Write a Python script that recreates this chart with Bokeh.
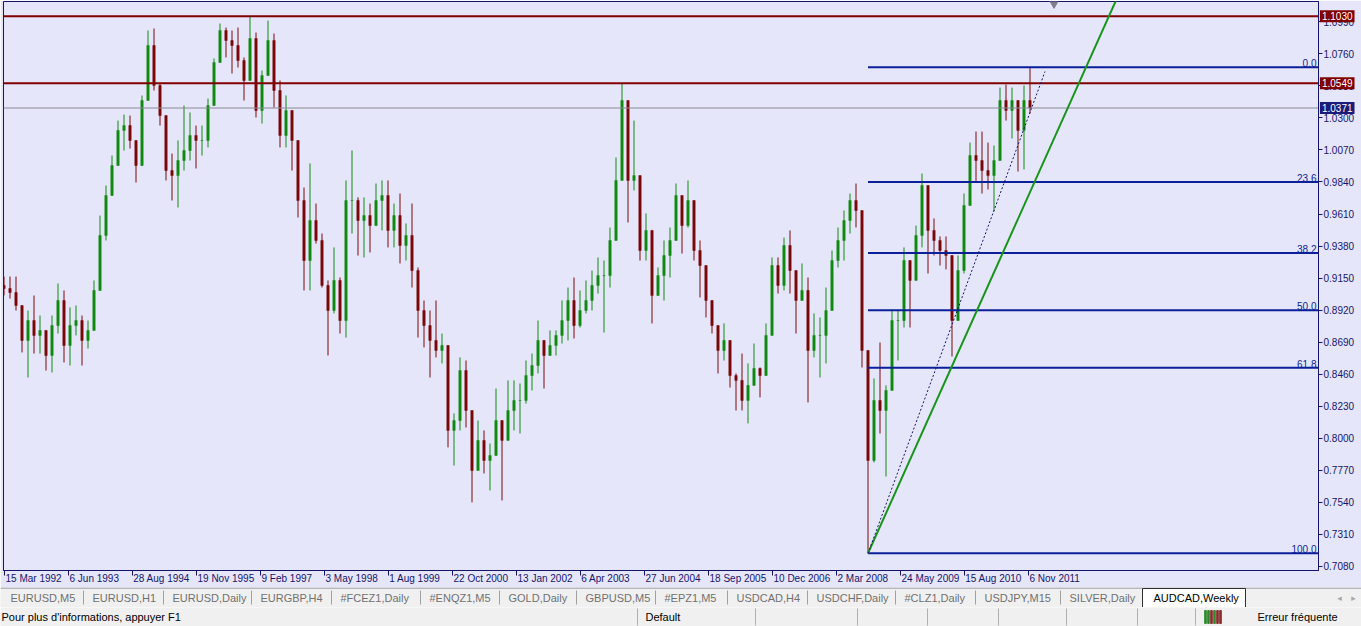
import numpy as np
from bokeh.plotting import figure
from bokeh.models import (FixedTicker, Range1d, NumeralTickFormatter, Label,
                          ColumnDataSource, LinearAxis)
from bokeh.layouts import column, row
from bokeh.embed import file_html
from bokeh.resources import INLINE
from bokeh.core.properties import value

# ---------------- data (AUDCAD weekly, one bar per 6 weeks) ----------------
bar_step_weeks = 6
first_open = 0.9097
close = [
    0.9075, 0.9046, 0.8953, 0.8702, 0.8845, 0.8738, 0.8774, 0.8594, 0.8809, 0.8989,
    0.8666, 0.8809, 0.8845, 0.8702, 0.8774, 0.9061, 0.9456, 0.9743, 0.9958, 1.0210,
    1.0245, 1.0138, 0.9958, 1.0425, 1.0820, 1.0533, 1.0317, 0.9922, 0.9886, 0.9994,
    1.0066, 1.0174, 1.0138, 1.0138, 1.0389, 1.0698, 1.0928, 1.0856, 1.0820, 1.0712,
    1.0569, 1.0870, 1.0353, 1.0604, 1.0856, 1.0497, 1.0174, 1.0353, 1.0138, 0.9707,
    0.9276, 0.9563, 0.9420, 0.9097, 0.8917, 0.9133, 0.8845, 0.9707, 0.9707,
    0.9563, 0.9599, 0.9527, 0.9707, 0.9743, 0.9492, 0.9599, 0.9384, 0.9456, 0.9204,
    0.8917, 0.8809, 0.8702, 0.8630, 0.8666, 0.8056, 0.8127, 0.8486, 0.8199, 0.7768,
    0.7984, 0.7840, 0.7876, 0.8127, 0.7984, 0.8199, 0.8271, 0.8271, 0.8450,
    0.8522, 0.8702, 0.8594, 0.8666, 0.8738, 0.8845, 0.8989, 0.8809, 0.8917, 0.8989,
    0.9097, 0.9168, 0.9168, 0.9420, 0.9851, 1.0425, 0.9851, 0.9886, 0.9348, 0.9492,
    0.9025, 0.9168, 0.9312, 0.9420, 0.9743, 0.9527, 0.9707, 0.9348, 0.9240,
    0.8989, 0.8809, 0.8630, 0.8702, 0.8450, 0.8415, 0.8271, 0.8379, 0.8501, 0.8450,
    0.8738, 0.9240, 0.9097, 0.9384, 0.9204, 0.8989, 0.9061, 0.8630, 0.8738, 0.8738,
    0.8917, 0.9276, 0.9420, 0.9563, 0.9707, 0.9635, 0.8630,
    0.7840, 0.8271, 0.8199, 0.8343, 0.8845, 0.8845, 0.9276, 0.9133, 0.9456, 0.9815,
    0.9492, 0.9420, 0.9348, 0.9312, 0.8845, 0.9204, 0.9671, 1.0030, 0.9994, 0.9922,
    0.9886, 0.9994, 1.0425, 1.0353, 1.0425, 1.0210, 1.0425, 1.0371,
]
high = [
    0.9161, 0.9161, 0.9161, 0.8932, 0.8917, 0.9025, 0.8881, 0.8774, 0.8881, 0.9111,
    0.9061, 0.8939, 0.8953, 0.8881, 0.8845, 0.9133, 0.9599, 0.9815, 1.0030, 1.0281,
    1.0324, 1.0317, 1.0066, 1.0461, 1.0928, 1.0942, 1.0547, 1.0260, 1.0044, 1.0138,
    1.0389, 1.0339, 1.0245, 1.0245, 1.0439, 1.0727, 1.0978, 1.0949, 1.0928, 1.0949,
    1.0734, 1.1028, 1.0913, 1.0640, 1.0999, 1.0906, 1.0569, 1.0461, 1.0231, 0.9958,
    0.9800, 0.9973, 0.9685, 0.9470, 0.9133, 0.9370, 0.9154, 0.9851, 1.0066,
    0.9729, 0.9729, 0.9685, 0.9829, 0.9851, 0.9851, 0.9685, 0.9757, 0.9542, 0.9685,
    0.9226, 0.8989, 0.8917, 0.8989, 0.8752, 0.8580, 0.8178, 0.8580, 0.8558, 0.8199,
    0.8127, 0.8056, 0.7962, 0.8357, 0.8077, 0.8415, 0.8415, 0.8393, 0.8558,
    0.8608, 0.8845, 0.8652, 0.8774, 0.8774, 0.8989, 0.9082, 0.9154, 0.9061, 0.9133,
    0.9204, 0.9298, 0.9276, 0.9513, 1.0016, 1.0547, 1.0403, 1.0281, 0.9757, 0.9614,
    0.9398, 0.9226, 0.9420, 0.9513, 0.9829, 0.9599, 0.9851, 0.9657, 0.9420,
    0.9204, 0.8939, 0.8774, 0.8824, 0.8580, 0.8465, 0.8608, 0.8537, 0.8680, 0.8508,
    0.8824, 0.9298, 0.9298, 0.9441, 0.9492, 0.9082, 0.9255, 0.9154, 0.8896, 0.8867,
    0.9082, 0.9348, 0.9513, 0.9635, 0.9757, 0.9829, 0.9542,
    0.8558, 0.8429, 0.8687, 0.8379, 0.8924, 0.8924, 0.9370, 0.9262, 0.9527, 0.9901,
    0.9815, 0.9578, 0.9449, 0.9449, 0.9161, 0.9312, 0.9757, 1.0123, 1.0202, 1.0202,
    1.0123, 1.0102, 1.0518, 1.0540, 1.0518, 1.0389, 1.0533, 1.0663,
]
low = [
    0.9025, 0.9003, 0.8917, 0.8616, 0.8436, 0.8608, 0.8608, 0.8486, 0.8472, 0.8752,
    0.8544, 0.8522, 0.8738, 0.8522, 0.8644, 0.8774, 0.9061, 0.9420, 0.9779, 0.9958,
    1.0066, 1.0080, 0.9836, 1.0174, 1.0518, 1.0497, 1.0245, 0.9851, 0.9707, 0.9657,
    0.9922, 0.9994, 0.9937, 1.0030, 1.0088, 1.0518, 1.0734, 1.0734, 1.0619, 1.0662,
    1.0425, 1.0712, 1.0303, 1.0260, 1.0762, 1.0375, 1.0088, 1.0088, 0.9922, 0.9585,
    0.9061, 0.9061, 0.9398, 0.9082, 0.8594, 0.8896, 0.8752, 0.8723, 0.9470,
    0.9312, 0.9298, 0.9334, 0.9527, 0.9492, 0.9370, 0.9370, 0.9255, 0.9276, 0.9082,
    0.8723, 0.8652, 0.8436, 0.8580, 0.8537, 0.7934, 0.7804, 0.8056, 0.8077, 0.7539,
    0.7768, 0.7747, 0.7625, 0.7984, 0.7553, 0.8034, 0.8056, 0.8034, 0.8249,
    0.8343, 0.8465, 0.8357, 0.8594, 0.8594, 0.8680, 0.8702, 0.8716, 0.8795, 0.8896,
    0.8917, 0.9039, 0.8759, 0.9082, 0.9513, 0.9851, 0.9549, 0.9779, 0.9276, 0.9276,
    0.8824, 0.9039, 0.8989, 0.9154, 0.9492, 0.9326, 0.9513, 0.9276, 0.9011,
    0.8867, 0.8752, 0.8465, 0.8558, 0.8364, 0.8199, 0.8199, 0.8106, 0.8436, 0.8293,
    0.8486, 0.8795, 0.9039, 0.9061, 0.9039, 0.8752, 0.8989, 0.8257, 0.8580, 0.8436,
    0.8537, 0.8939, 0.9226, 0.9276, 0.9470, 0.9513, 0.8508,
    0.7173, 0.7826, 0.8034, 0.7725, 0.8450, 0.8558, 0.8795, 0.8795, 0.9161, 0.9370,
    0.9183, 0.9312, 0.9240, 0.9212, 0.8587, 0.8845, 0.9183, 0.9678, 0.9836, 0.9757,
    0.9786, 0.9628, 1.0202, 1.0281, 1.0152, 0.9915, 0.9930, 1.0332,
]

date_labels = ["15 Mar 1992", "6 Jun 1993", "28 Aug 1994", "19 Nov 1995", "9 Feb 1997",
               "3 May 1998", "1 Aug 1999", "22 Oct 2000", "13 Jan 2002", "6 Apr 2003",
               "27 Jun 2004", "18 Sep 2005", "10 Dec 2006", "2 Mar 2008", "24 May 2009",
               "15 Aug 2010", "6 Nov 2011"]
label_step_weeks = 64
price_ticks = [0.7080, 0.7310, 0.7540, 0.7770, 0.8000, 0.8230, 0.8460, 0.8690, 0.8920,
               0.9150, 0.9380, 0.9610, 0.9840, 1.0070, 1.0300, 1.0530, 1.0760, 1.0990]
resistance_levels = [1.1030, 1.0549]
bid_price = 1.0371
fib_high = 1.0663
fib_low = 0.7173
fib_low_week = 864
fib_levels = [0.0, 23.6, 38.2, 50.0, 61.8, 100.0]
trend_weeks = [864, 1130]
trend_prices = [0.7173, 1.1432]
dash_weeks = [864, 1041]
dash_prices = [0.7173, 1.0633]
chart_shift_week = 1050

tab_names = ["EURUSD,M5", "EURUSD,H1", "EURUSD,Daily", "EURGBP,H4", "#FCEZ1,Daily",
             "#ENQZ1,M5", "GOLD,Daily", "GBPUSD,M5", "#EPZ1,M5", "USDCAD,H4",
             "USDCHF,Daily", "#CLZ1,Daily", "USDJPY,M15", "SILVER,Daily", "AUDCAD,Weekly"]
tab_x = [10, 92, 172, 260, 340, 429, 508, 585, 664, 736, 816, 904, 984, 1069, 1153]
status_texts = ["Pour plus d'informations, appuyer F1", "Default", "Erreur fréquente"]
status_x = [1, 645, 1257]
status_sep_x = [637, 755, 857, 927, 998, 1066, 1137, 1195]

# ---------------- styling / geometry ----------------
BG = "#e6e6fa"
NAVY = "#15156b"
UP = "#108a10"
DOWN = "#7a0808"
FIB = "#0a1f9a"
FONT = "Liberation Sans"
X0, X1 = -0.5, 1314.5
Y0, Y1 = 0.7050, 1.1136
FIG_W = 1361
LEFT_B = 3
RIGHT_B = 43
FRAME_W = FIG_W - LEFT_B - RIGHT_B
FRAME_H = 569
BOTTOM_B = 17
TAB_H = 20
STATUS_H = 19


def text_width(txt, size=10):
    try:
        from PIL import ImageFont
        f = ImageFont.truetype("/usr/share/fonts/truetype/liberation/LiberationSans-Regular.ttf", size)
        return f.getlength(txt)
    except Exception:
        return 0.52 * size * len(txt)


n = len(close)
weeks = [i * bar_step_weeks for i in range(n)]
opens = [first_open] + close[:-1]
is_up = [c >= o for c, o in zip(close, opens)]
src = ColumnDataSource(dict(
    x=weeks,
    hi=[max(h, o, c) for h, o, c in zip(high, opens, close)],
    lo=[min(l, o, c) for l, o, c in zip(low, opens, close)],
    top=[max(o, c) for o, c in zip(opens, close)],
    bot=[min(o, c) for o, c in zip(opens, close)],
    color=[UP if u else DOWN for u in is_up],
))

yr = Range1d(Y0, Y1)
p = figure(width=FIG_W, frame_height=FRAME_H, x_range=Range1d(X0, X1), y_range=yr,
           output_backend="svg", toolbar_location=None, y_axis_location="right")
p.min_border_left = LEFT_B
p.min_border_top = 1
p.min_border_right = RIGHT_B
p.min_border_bottom = BOTTOM_B
p.background_fill_color = BG
p.border_fill_color = BG
p.outline_line_color = NAVY
p.outline_line_width = 1
p.grid.visible = False

# x axis: tick marks only
xt = [i * label_step_weeks for i in range(len(date_labels))]
ax = p.xaxis[0]
ax.ticker = FixedTicker(ticks=xt)
ax.major_label_text_font_size = "1px"
ax.major_label_text_color = None
ax.major_label_standoff = 0
ax.major_tick_out = 5
ax.major_tick_in = 0
ax.minor_tick_line_color = None
ax.axis_line_color = NAVY
ax.major_tick_line_color = NAVY

# x axis: date labels starting just right of their tick
px_per_week = FRAME_W / (X1 - X0)
centers = [t + (text_width(lab) / 2 + 1.5) / px_per_week for t, lab in zip(xt, date_labels)]
ax2 = LinearAxis(ticker=FixedTicker(ticks=centers),
                 major_label_overrides={c: lab for c, lab in zip(centers, date_labels)},
                 major_tick_out=0, major_tick_in=0, minor_tick_line_color=None,
                 axis_line_color=None, major_tick_line_color=None,
                 major_label_text_color=NAVY, major_label_text_font=FONT,
                 major_label_text_font_size="10px", major_label_standoff=-3)
p.add_layout(ax2, "below")

# y axis (prices, right)
p.yaxis.ticker = FixedTicker(ticks=price_ticks)
p.yaxis.formatter = NumeralTickFormatter(format="0.0000")
p.yaxis.major_tick_out = 4
p.yaxis.major_tick_in = 0
p.yaxis.minor_tick_line_color = None
p.yaxis.axis_line_color = NAVY
p.yaxis.major_tick_line_color = NAVY
p.yaxis.major_label_text_color = NAVY
p.yaxis.major_label_text_font = FONT
p.yaxis.major_label_text_font_size = "10px"
p.yaxis.major_label_standoff = 1

# candles
p.segment(x0="x", y0="hi", x1="x", y1="lo", line_color="color", line_width=1, source=src)
p.vbar(x="x", width=2.4, top="top", bottom="bot", fill_color="color", line_color="color",
       line_width=0.5, source=src)

# horizontal lines
for lv in resistance_levels:
    p.segment(x0=[X0], y0=[lv], x1=[X1], y1=[lv], line_color="#800000", line_width=2)
p.segment(x0=[X0], y0=[bid_price], x1=[X1], y1=[bid_price], line_color="#8a8a96", line_width=1)

# fibonacci retracement
fib_prices = [fib_high - (fib_high - fib_low) * lv / 100.0 for lv in fib_levels]
p.segment(x0=[fib_low_week] * len(fib_prices), y0=fib_prices,
          x1=[X1] * len(fib_prices), y1=fib_prices, line_color=FIB, line_width=2)
p.text(x=[X1] * len(fib_prices), y=fib_prices, text=["%.1f" % v for v in fib_levels],
       text_align="right", text_baseline="bottom", x_offset=-2, y_offset=0,
       text_color=FIB, text_font_size="10px", text_font=value(FONT))

# trend lines
p.line(trend_weeks, trend_prices, line_color="#17951a", line_width=2)
p.line(dash_weeks, dash_prices, line_color=NAVY, line_width=1, line_dash="2 2")

# chart shift marker
p.scatter(x=[chart_shift_week], y=[Y1 - 0.0012], marker="inverted_triangle", size=9,
          fill_color="#7d7d8e", line_color="#7d7d8e")

# price tags: a transparent overlay panel laid over the right price scale
tg = figure(width=RIGHT_B, frame_height=FRAME_H, x_range=Range1d(0, RIGHT_B), y_range=yr,
            output_backend="svg", toolbar_location=None, min_border=0,
            margin=(0, 0, 0, -RIGHT_B))
tg.min_border_top = 1
tg.axis.visible = False
tg.grid.visible = False
tg.outline_line_color = None
tg.background_fill_color = None
tg.border_fill_color = None
for lv, bg in [(resistance_levels[0], "#800000"), (resistance_levels[1], "#800000"),
               (bid_price, "#1a1a78")]:
    tg.add_layout(Label(x=RIGHT_B - 7, y=lv, text="%.4f" % lv, text_align="right",
                        text_baseline="middle", text_color="white", text_font=FONT,
                        text_font_size="10px", background_fill_color=bg, padding=2))

# ---------------- tab bar ----------------
t = figure(width=FIG_W, height=TAB_H, x_range=Range1d(0, FIG_W), y_range=Range1d(0, TAB_H),
           output_backend="svg", toolbar_location=None, min_border=0)
t.axis.visible = False
t.grid.visible = False
t.outline_line_color = None
t.background_fill_color = "#f0f0f0"
t.border_fill_color = "#f0f0f0"
t.segment(x0=[0], y0=[TAB_H - 0.5], x1=[FIG_W], y1=[TAB_H - 0.5], line_color="#7a7a8a")
ai = len(tab_names) - 1
t.quad(left=[tab_x[ai] - 11], right=[tab_x[ai] + 92], bottom=[0], top=[TAB_H - 1],
       fill_color="white", line_color="#303030", line_width=1)
t.text(x=tab_x[:ai], y=[10] * ai, text=tab_names[:ai], text_baseline="middle",
       text_color="#707070", text_font_size="11px", text_font=value(FONT))
t.text(x=[tab_x[ai]], y=[10], text=[tab_names[ai]], text_baseline="middle",
       text_color="#000000", text_font_size="11px", text_font=value(FONT))
sx = [x - 9 for x in tab_x[1:ai]]
t.segment(x0=sx, y0=[3] * len(sx), x1=sx, y1=[17] * len(sx), line_color="#a0a0a0")
t.text(x=[1339, 1353], y=[10, 10], text=["◂", "▸"], text_align="center",
       text_baseline="middle", text_color="#a8a8a8", text_font_size="9px",
       text_font=value("DejaVu Sans"))

# ---------------- status bar ----------------
s = figure(width=FIG_W, height=STATUS_H, x_range=Range1d(0, FIG_W), y_range=Range1d(0, STATUS_H),
           output_backend="svg", toolbar_location=None, min_border=0)
s.axis.visible = False
s.grid.visible = False
s.outline_line_color = None
s.background_fill_color = "#f0f0f0"
s.border_fill_color = "#f0f0f0"
s.text(x=status_x, y=[9.5] * 3, text=status_texts, text_baseline="middle",
       text_color="#000000", text_font_size="11px", text_font=value(FONT))
s.segment(x0=status_sep_x, y0=[1] * len(status_sep_x), x1=status_sep_x,
          y1=[18] * len(status_sep_x), line_color="#b0b0b0")
icon_x = [1205, 1208, 1211, 1214, 1217, 1220]
icon_c = ["#2e8b2e", "#2e8b2e", "#8b2e2e", "#2e8b2e", "#8b2e2e", "#8b2e2e"]
s.vbar(x=icon_x, width=1.6, top=[16] * 6, bottom=[3] * 6, color=icon_c)

layout = column(row(p, tg, spacing=0), t, s, spacing=0)
open("out.html", "w").write(file_html(layout, INLINE))
